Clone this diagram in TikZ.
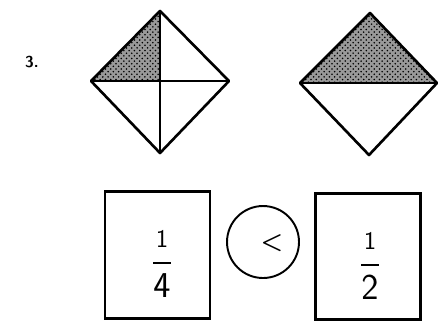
\documentclass[tikz,border=0pt]{standalone}
\usepackage{amsmath}
\usetikzlibrary{patterns}
\tikzset{
  edge/.style={line width=1.5pt,line join=round},
  shaded/.style={fill=gray!80,postaction={pattern=crosshatch dots,pattern color=black}},
  fracbox/.style={draw,line width=1.5pt,minimum width=2.1cm,minimum height=2.53cm,inner sep=0pt},
  frac/.style={font=\fontsize{21}{25}\selectfont\sffamily}
}
\begin{document}
\begin{tikzpicture}[x=0.02cm,y=-0.02cm]
\useasboundingbox (0,0) rectangle (438,322);
\node[font=\small\sffamily\bfseries] (num) at (32,62) {3.};
% quarter diamond
\coordinate (qT) at (160,11);
\coordinate (qL) at (91,81);
\coordinate (qR) at (229,81);
\coordinate (qB) at (160,153);
\coordinate (qC) at (160,81);
\fill[shaded] (qT)--(qL)--(qC)--cycle;
\draw[edge] (qT)--(qR)--(qB)--(qL)--cycle;
\draw[edge] (qL)--(qR) (qT)--(qB);
% half diamond
\coordinate (hT) at (370,13);
\coordinate (hL) at (300,83);
\coordinate (hR) at (437,83);
\coordinate (hB) at (369,155);
\fill[shaded] (hT)--(hL)--(hR)--cycle;
\draw[edge] (hT)--(hR)--(hB)--(hL)--cycle;
\draw[edge] (hL)--(hR);
% comparison
\node[fracbox] (lbox) at (157.5,255) {};
\node[frac] (lfrac) at (162,264) {$\displaystyle\frac{\scriptstyle\mathsf{1}}{\mathsf{4}}$};
\node[draw,circle,line width=1.1pt,minimum size=1.44cm,inner sep=0pt] (cmp) at (263,242) {};
\node[font=\Large] (lt) at (272,243) {$\boldsymbol{<}$};
\node[fracbox] (rbox) at (368,256.5) {};
\node[frac] (rfrac) at (370,266) {$\displaystyle\frac{\scriptstyle\mathsf{1}}{\mathsf{2}}$};
\end{tikzpicture}
\end{document}
